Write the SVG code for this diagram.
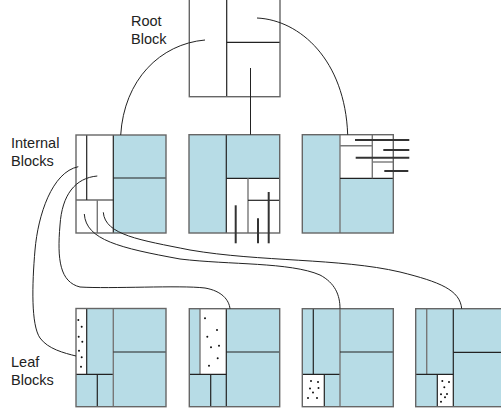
<svg xmlns="http://www.w3.org/2000/svg" width="501" height="412" viewBox="0 0 501 412">
<style>
.lbl{font-family:"Liberation Sans",Arial,sans-serif;font-size:14.5px;fill:#222}
.box{fill:none;stroke:#666;stroke-width:1.4}
.b{fill:#b7dce6}
.w{fill:#fff}
.d{stroke:#222;stroke-width:1.2;fill:none}
.g{stroke:#777;stroke-width:1.4;fill:none}
.p{stroke:#333;stroke-width:2;fill:none}
.c{stroke:#222;stroke-width:1;fill:none}
.dot{fill:#111}
</style>
<rect width="501" height="412" fill="#fff"/>
<g id="labels">
<text class="lbl" x="131" y="25.5">Root</text>
<text class="lbl" x="131" y="44">Block</text>
<text class="lbl" x="11" y="148">Internal</text>
<text class="lbl" x="11" y="166">Blocks</text>
<text class="lbl" x="11" y="367">Leaf</text>
<text class="lbl" x="11" y="385">Blocks</text>
</g>
<g id="root">
<rect x="189.3" y="-5" width="90.7" height="101.7" class="w"/>
<line x1="226.7" y1="-5" x2="226.7" y2="96.7" class="d"/>
<line x1="226.7" y1="42.3" x2="280" y2="42.3" class="d"/>
<rect x="189.3" y="-5" width="90.7" height="101.7" class="box"/>
</g>
<g id="internal1">
<rect x="76" y="135" width="90" height="98" class="w"/>
<rect x="113.3" y="135" width="52.7" height="98" class="b"/>
<line x1="113.3" y1="178" x2="166" y2="178" class="d"/>
<line x1="113.3" y1="135" x2="113.3" y2="233" class="d"/>
<line x1="86.7" y1="135" x2="86.7" y2="200" class="d"/>
<line x1="76" y1="200" x2="113.3" y2="200" class="d"/>
<line x1="97.3" y1="200" x2="97.3" y2="233" class="g"/>
<rect x="76" y="135" width="90" height="98" class="box"/>
</g>
<g id="internal2">
<rect x="189" y="134.7" width="90.7" height="98.3" class="w"/>
<rect x="189" y="134.7" width="37.3" height="98.3" class="b"/>
<rect x="226.3" y="134.7" width="53.4" height="43.6" class="b"/>
<line x1="226.3" y1="134.7" x2="226.3" y2="233" class="d"/>
<line x1="226.3" y1="178.3" x2="279.7" y2="178.3" class="d"/>
<line x1="248" y1="178.3" x2="248" y2="233" class="g"/>
<line x1="248" y1="200.3" x2="279.7" y2="200.3" class="d"/>
<rect x="189" y="134.7" width="90.7" height="98.3" class="box"/>
<line x1="235.7" y1="205.3" x2="235.7" y2="243.3" class="p"/>
<line x1="258" y1="218.3" x2="258" y2="243.3" class="p"/>
<line x1="268.7" y1="192" x2="268.7" y2="243.3" class="p"/>
</g>
<g id="internal3">
<rect x="302.3" y="134.7" width="91" height="98.3" class="w"/>
<rect x="302.3" y="134.7" width="37.7" height="98.3" class="b"/>
<rect x="340" y="178.3" width="53.3" height="54.7" class="b"/>
<line x1="340" y1="134.7" x2="340" y2="233" class="g"/>
<line x1="340" y1="178.3" x2="393.3" y2="178.3" class="d"/>
<line x1="372.3" y1="134.7" x2="372.3" y2="178.3" class="g"/>
<line x1="340" y1="145.7" x2="372.3" y2="145.7" class="g"/>
<line x1="372.3" y1="162" x2="393.3" y2="162" class="g"/>
<rect x="302.3" y="134.7" width="91" height="98.3" class="box"/>
<line x1="355" y1="140" x2="409.3" y2="140" class="p"/>
<line x1="383.3" y1="150" x2="409.3" y2="150" class="p"/>
<line x1="355.7" y1="157.7" x2="409.3" y2="157.7" class="p"/>
<line x1="384.3" y1="171" x2="408.3" y2="171" class="p"/>
</g>
<g id="leaf1">
<rect x="76" y="308.5" width="90" height="98.2" class="b"/>
<rect x="76" y="308.5" width="10.7" height="65.8" class="w"/>
<line x1="86.7" y1="308.5" x2="86.7" y2="374.3" class="d"/>
<line x1="76" y1="374.3" x2="113.3" y2="374.3" class="d"/>
<line x1="97.3" y1="374.3" x2="97.3" y2="406.7" class="d"/>
<line x1="113.3" y1="308.5" x2="113.3" y2="406.7" class="g"/>
<line x1="113.3" y1="352" x2="166" y2="352" class="d"/>
<rect x="76" y="308.5" width="90" height="98.2" class="box"/>
<circle class="dot" cx="78.3" cy="320" r="1"/>
<circle class="dot" cx="81.7" cy="326.7" r="1"/>
<circle class="dot" cx="78.7" cy="336.7" r="1"/>
<circle class="dot" cx="82.3" cy="341.7" r="1"/>
<circle class="dot" cx="79" cy="350.7" r="1"/>
<circle class="dot" cx="81.7" cy="357.3" r="1"/>
<circle class="dot" cx="81" cy="366.7" r="1"/>
</g>
<g id="leaf2">
<rect x="189.3" y="308.7" width="90.4" height="98" class="b"/>
<rect x="200" y="308.7" width="26.3" height="65.6" class="w"/>
<line x1="200" y1="308.7" x2="200" y2="374.3" class="g"/>
<line x1="189.3" y1="374.3" x2="226.3" y2="374.3" class="d"/>
<line x1="210.7" y1="374.3" x2="210.7" y2="406.7" class="d"/>
<line x1="226.3" y1="308.7" x2="226.3" y2="406.7" class="d"/>
<line x1="226.3" y1="352" x2="279.7" y2="352" class="d"/>
<rect x="189.3" y="308.7" width="90.4" height="98" class="box"/>
<circle class="dot" cx="205" cy="318.3" r="1"/>
<circle class="dot" cx="217" cy="330" r="1"/>
<circle class="dot" cx="207.3" cy="336.7" r="1"/>
<circle class="dot" cx="219" cy="345.7" r="1"/>
<circle class="dot" cx="211" cy="347.3" r="1"/>
<circle class="dot" cx="217.7" cy="358.3" r="1"/>
<circle class="dot" cx="209" cy="365.7" r="1"/>
</g>
<g id="leaf3">
<rect x="302.3" y="308.7" width="91" height="98" class="b"/>
<rect x="302.3" y="374.3" width="22" height="32.4" class="w"/>
<line x1="313.3" y1="308.7" x2="313.3" y2="374.3" class="d"/>
<line x1="302.3" y1="374.3" x2="340" y2="374.3" class="d"/>
<line x1="324.3" y1="374.3" x2="324.3" y2="406.7" class="d"/>
<line x1="340" y1="308.7" x2="340" y2="406.7" class="g"/>
<line x1="340" y1="352" x2="393.3" y2="352" class="d"/>
<rect x="302.3" y="308.7" width="91" height="98" class="box"/>
<circle class="dot" cx="311" cy="381" r="1"/>
<circle class="dot" cx="318" cy="382" r="1"/>
<circle class="dot" cx="310" cy="388.5" r="1"/>
<circle class="dot" cx="318.5" cy="388" r="1"/>
<circle class="dot" cx="313" cy="392.5" r="1"/>
<circle class="dot" cx="308" cy="398" r="1"/>
<circle class="dot" cx="317" cy="398" r="1"/>
</g>
<g id="leaf4">
<rect x="415.7" y="308.7" width="91" height="98" class="b"/>
<rect x="437.3" y="374.3" width="16" height="32.4" class="w"/>
<line x1="426.7" y1="308.7" x2="426.7" y2="374.3" class="g"/>
<line x1="415.7" y1="374.3" x2="453.3" y2="374.3" class="d"/>
<line x1="437.3" y1="374.3" x2="437.3" y2="406.7" class="d"/>
<line x1="453.3" y1="308.7" x2="453.3" y2="406.7" class="d"/>
<line x1="453.3" y1="352.3" x2="507" y2="352.3" class="d"/>
<rect x="415.7" y="308.7" width="91" height="98" class="box"/>
<circle class="dot" cx="442.3" cy="381" r="1"/>
<circle class="dot" cx="449" cy="382" r="1"/>
<circle class="dot" cx="444.3" cy="387.3" r="1"/>
<circle class="dot" cx="441" cy="394.3" r="1"/>
<circle class="dot" cx="447" cy="394" r="1"/>
<circle class="dot" cx="445" cy="397.3" r="1"/>
<circle class="dot" cx="441" cy="401.7" r="1"/>
</g>
<g id="connectors">
<path class="c" d="M205,40 C160,44 124,80 120.7,135"/>
<path class="c" d="M257,18 C300,20 345,60 347.7,134.7"/>
<line class="c" x1="250.5" y1="68" x2="250.5" y2="134.7"/>
<path class="c" d="M78.3,166.7 C52,172 38,215 35,250 C32,285 31,325 40,338 C48,349 64,353 76,356"/>
<path class="c" d="M97.3,176 C75,178 62,195 60,225 C57,260 60,282 80,287 C110,289 180,285 205,288 C222,291 229,300 230,308.7"/>
<path class="c" d="M84.3,214 C86,240 120,248 180,259 C230,265 290,262 320,275 C335,283 340,295 340,308.7"/>
<path class="c" d="M103.3,212.3 C105,235 140,240 190,250 C260,262 340,258 400,272 C440,282 460,290 461.7,308.7"/>
</g>
</svg>
